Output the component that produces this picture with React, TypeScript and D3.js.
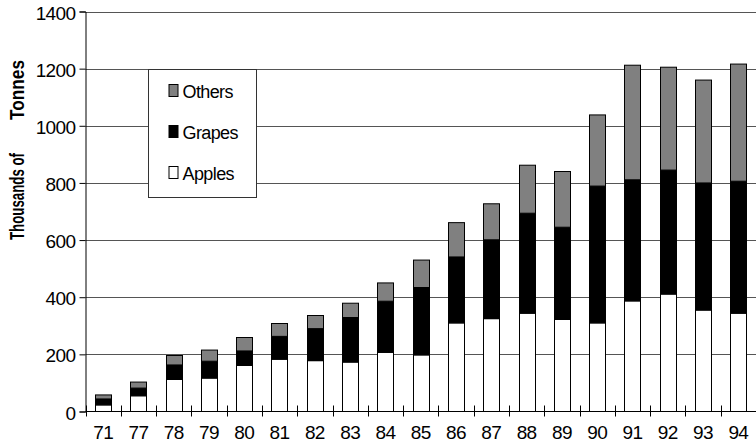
import { useEffect, useRef } from "react";
import * as d3 from "d3";

// values, thousands of tonnes
const years = ["71", "77", "78", "79", "80", "81", "82", "83", "84", "85", "86", "87", "88", "89", "90", "91", "92", "93", "94"];
const apples = [23, 55, 112, 117, 161, 183, 178, 173, 207, 198, 310, 325, 344, 322, 310, 387, 411, 355, 344];
const grapes = [21, 27, 51, 59, 51, 80, 112, 156, 179, 236, 231, 276, 350, 323, 479, 424, 434, 445, 462];
const others = [14, 21, 33, 39, 47, 45, 46, 50, 64, 96, 120, 126, 168, 195, 249, 401, 360, 360, 410];
const seriesNames = ["Apples", "Grapes", "Others"];
const seriesColors = ["#ffffff", "#000000", "#808080"];
const yTicks = [0, 200, 400, 600, 800, 1000, 1200, 1400];

const FONT = "'Liberation Sans', Arial, sans-serif";

export default function App() {
  const ref = useRef<SVGSVGElement | null>(null);

  useEffect(() => {
    document.body.style.margin = "0";
    if (!ref.current) return;

    const W = 756;
    const H = 443;
    const left = 85.5;
    const right = 756;
    const top = 11.5;
    const bottom = 411.5;

    const svg = d3.select(ref.current).html("").attr("width", W).attr("height", H);

    const rows = years.map((y, i) => ({ year: y, Apples: apples[i], Grapes: grapes[i], Others: others[i] }));
    const stacked = d3.stack<any>().keys(seriesNames)(rows);

    const x = d3.scaleBand().domain(years).range([left, right]).paddingInner(0.54).paddingOuter(0.27);
    const y = d3.scaleLinear().domain([0, 1400]).range([bottom, top]);

    // gridlines
    svg.append("g")
      .selectAll("line")
      .data(yTicks.filter((t) => t > 0))
      .join("line")
      .attr("x1", left)
      .attr("x2", right)
      .attr("y1", (d) => Math.round(y(d)) + 0.5)
      .attr("y2", (d) => Math.round(y(d)) + 0.5)
      .attr("stroke", "#555")
      .attr("stroke-width", 1);

    // bars
    svg.append("g")
      .selectAll("g")
      .data(stacked)
      .join("g")
      .attr("fill", (_, i) => seriesColors[i])
      .selectAll("rect")
      .data((d) => d)
      .join("rect")
      .attr("x", (d: any) => Math.round(x(d.data.year)!) + 0.5)
      .attr("y", (d) => y(d[1]))
      .attr("width", Math.round(x.bandwidth()))
      .attr("height", (d) => y(d[0]) - y(d[1]))
      .attr("stroke", "#000")
      .attr("stroke-width", 1);

    // y axis
    const yAxis = svg.append("g").attr("transform", `translate(${left},0)`)
      .call(d3.axisLeft(y).tickValues(yTicks).tickSize(6).tickPadding(4).tickFormat(d3.format("d")));
    yAxis.select(".domain").attr("stroke", "#000");
    yAxis.selectAll("text").style("font-family", FONT).style("font-size", "19px").style("letter-spacing", "-0.6px").attr("fill", "#000").attr("dy", "0.4em");

    // x axis, ticks between categories
    const xg = svg.append("g").attr("transform", `translate(0,${bottom})`);
    xg.append("line").attr("x1", left).attr("x2", right).attr("stroke", "#000");
    const step = x.step();
    xg.selectAll("line.tick")
      .data(d3.range(years.length + 1))
      .join("line")
      .attr("class", "tick")
      .attr("x1", (i) => Math.round(left + i * step) + 0.5)
      .attr("x2", (i) => Math.round(left + i * step) + 0.5)
      .attr("y1", -6)
      .attr("y2", 5)
      .attr("stroke", "#000");
    xg.selectAll("text")
      .data(years)
      .join("text")
      .attr("x", (d) => x(d)! + x.bandwidth() / 2)
      .attr("y", 27)
      .attr("text-anchor", "middle")
      .style("font-family", FONT)
      .style("font-size", "19px")
      .style("letter-spacing", "-0.6px")
      .text((d) => d);

    // y axis title, squeezed like the original narrow face
    const title = svg.append("g").style("font-family", FONT).style("font-size", "21px").style("font-weight", "bold");
    title.append("text").attr("transform", "translate(24,240) rotate(-90)")
      .attr("textLength", 87).attr("lengthAdjust", "spacingAndGlyphs").text("Thousands of");
    title.append("text").attr("transform", "translate(24,120) rotate(-90)")
      .attr("textLength", 60).attr("lengthAdjust", "spacingAndGlyphs").text("Tonnes");

    // legend
    const lg = svg.append("g").attr("transform", "translate(148.5,69.5)");
    lg.append("rect").attr("width", 108).attr("height", 128).attr("fill", "#fff").attr("stroke", "#333");
    const legendOrder = [2, 1, 0];
    legendOrder.forEach((si, k) => {
      const row = lg.append("g").attr("transform", `translate(20.5,${15 + k * 41})`);
      row.append("rect").attr("width", 9).attr("height", 12).attr("fill", seriesColors[si]).attr("stroke", "#000");
      row.append("text").attr("x", 13.5).attr("y", 13).style("font-family", FONT).style("font-size", "18px").style("letter-spacing", "-0.6px").text(seriesNames[si]);
    });
  }, []);

  return <svg ref={ref}></svg>;
}
